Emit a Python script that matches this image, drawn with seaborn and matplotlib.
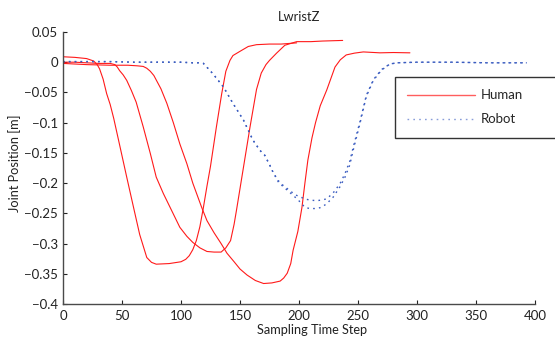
import matplotlib
matplotlib.use("Agg")
import matplotlib.pyplot as plt
import seaborn as sns
import pandas as pd
from matplotlib.lines import Line2D

# Three human demonstrations of the left wrist Z trajectory
human1_t = [0, 10, 20, 26, 29, 31, 34, 37, 40, 43, 48, 54, 60, 65, 71, 75, 79, 90, 100,
            104, 107, 110, 113, 116, 119, 122, 125, 130, 134.5, 138, 141.5, 144, 150,
            157, 164, 175, 185, 198]
human1_z = [0.009, 0.008, 0.006, 0.002, -0.004, -0.011, -0.028, -0.052, -0.070, -0.093,
            -0.137, -0.190, -0.242, -0.285, -0.323, -0.331, -0.334, -0.333, -0.330,
            -0.326, -0.320, -0.310, -0.295, -0.272, -0.240, -0.205, -0.172, -0.107,
            -0.052, -0.015, 0.003, 0.011, 0.018, 0.026, 0.029, 0.030, 0.030, 0.032]

human2_t = [0, 10, 20, 30, 40, 44, 46, 48, 51, 54, 58, 62, 68, 74, 79, 85, 92, 99, 105,
            110, 116, 122, 128, 134, 138, 142, 145, 147, 153, 158.5, 164, 168, 172,
            175, 181, 188, 198, 210, 220, 237]
human2_z = [0.000, 0.000, -0.001, -0.002, -0.002, -0.004, -0.008, -0.014, -0.021, -0.030,
            -0.047, -0.066, -0.107, -0.151, -0.190, -0.217, -0.245, -0.273, -0.288,
            -0.298, -0.307, -0.313, -0.314, -0.314, -0.307, -0.295, -0.268, -0.245,
            -0.173, -0.107, -0.045, -0.018, -0.004, 0.003, 0.015, 0.028, 0.034, 0.034,
            0.035, 0.036]

human3_t = [0, 10, 20, 40, 55, 63, 68, 71, 74, 77, 80, 83, 88, 93.5, 99, 105, 110, 117.5,
            122, 128, 134, 139, 145, 150, 156, 163, 170, 177, 184, 187, 190, 193, 195,
            199, 202.5, 205, 207.5, 211, 214, 218, 223.5, 230.5, 235, 240, 247, 254.5,
            268.6, 280, 294]
human3_z = [-0.002, -0.003, -0.004, -0.005, -0.005, -0.006, -0.007, -0.010, -0.015,
            -0.022, -0.033, -0.044, -0.068, -0.100, -0.135, -0.168, -0.200, -0.240,
            -0.262, -0.282, -0.300, -0.316, -0.330, -0.342, -0.352, -0.361, -0.366,
            -0.365, -0.362, -0.357, -0.349, -0.333, -0.311, -0.280, -0.240, -0.200,
            -0.162, -0.125, -0.100, -0.072, -0.046, -0.008, 0.004, 0.012, 0.015, 0.017,
            0.0155, 0.016, 0.0155]

# Two robot executions
robot1_t = [0, 20, 40, 60, 80, 100, 110, 115, 119, 127, 136, 144, 153, 161, 167, 171,
            175.4, 178, 182.5, 186.7, 192, 196.6, 199.4, 205, 209, 215, 219, 223.5, 229,
            234.7, 239, 243, 246, 251.7, 257, 263, 270, 277, 283, 300, 330, 360, 393]
robot1_z = [0.001, 0.001, 0.001, 0.000, 0.000, 0.000, -0.001, -0.001, -0.002, -0.019,
            -0.041, -0.068, -0.096, -0.129, -0.146, -0.154, -0.171, -0.182, -0.198,
            -0.206, -0.215, -0.223, -0.228, -0.240, -0.242, -0.242, -0.240, -0.234,
            -0.223, -0.206, -0.190, -0.170, -0.145, -0.101, -0.057, -0.030, -0.013,
            -0.003, -0.001, 0.000, 0.000, -0.001, -0.001]

robot2_t = [0, 20, 40, 60, 80, 100, 110, 115, 119, 127, 136, 144, 153, 161, 167, 171,
            175.4, 178, 182.5, 186.7, 192, 196.6, 200, 205, 209, 215, 219, 223.5, 229,
            234.7, 239, 243, 246, 251.7, 257, 263, 270, 277, 283, 300, 330, 360, 393]
robot2_z = [0.001, 0.001, 0.001, 0.000, 0.000, 0.000, -0.001, -0.001, -0.002, -0.019,
            -0.041, -0.068, -0.096, -0.129, -0.146, -0.154, -0.171, -0.182, -0.196,
            -0.204, -0.212, -0.219, -0.222, -0.226, -0.228, -0.229, -0.228, -0.226,
            -0.216, -0.201, -0.184, -0.164, -0.140, -0.098, -0.055, -0.029, -0.012,
            -0.003, -0.001, 0.000, 0.000, -0.001, -0.001]

x_ticks = [0, 50, 100, 150, 200, 250, 300, 350, 400]
y_ticks = [0.05, 0, -0.05, -0.1, -0.15, -0.2, -0.25, -0.3, -0.35, -0.4]

sns.set_style("ticks", {"xtick.direction": "in", "ytick.direction": "in",
                        "axes.edgecolor": "#4a4a4a"})
plt.rcParams["font.family"] = ["Lato", "DejaVu Sans"]

fig = plt.figure(figsize=(5.55, 3.39), dpi=100)
ax = fig.add_axes([0.1135, 0.103, 0.8505, 0.8027])

human_color = "#ff1a1a"
robot_color = "#3a5cc0"
robot_dash = (0, (1.2, 3.0))

for t, z in [(human1_t, human1_z), (human2_t, human2_z), (human3_t, human3_z)]:
    df = pd.DataFrame({"t": t, "z": z})
    sns.lineplot(data=df, x="t", y="z", ax=ax, color=human_color, lw=0.8,
                 sort=False, estimator=None)

for t, z in [(robot1_t, robot1_z), (robot2_t, robot2_z)]:
    df = pd.DataFrame({"t": t, "z": z})
    sns.lineplot(data=df, x="t", y="z", ax=ax, color=robot_color, lw=1.0,
                 linestyle=robot_dash, sort=False, estimator=None)

ax.set_xlim(0, 400)
ax.set_ylim(-0.4, 0.05)
ax.set_xticks(x_ticks)
ax.set_yticks(y_ticks)
ax.set_yticklabels([("%g" % v).replace("-", "\u2212") for v in y_ticks])
ax.tick_params(labelsize=9.5, colors="#222222", length=3, width=0.8)
ax.tick_params(axis="x", pad=4)
for s in ("left", "bottom"):
    ax.spines[s].set_linewidth(1.0)
sns.despine(ax=ax)

ax.set_title("LwristZ", fontsize=9.3, color="#222222", pad=8)
ax.set_xlabel("Sampling Time Step", fontsize=9.2, color="#222222")
ax.set_ylabel("Joint Position [m]", fontsize=9.2, color="#222222")
ax.xaxis.set_label_coords(0.5275, -0.072)
ax.yaxis.set_label_coords(-0.089, 0.518)

handles = [Line2D([], [], color=human_color, lw=1.0, alpha=0.7),
           Line2D([], [], color=robot_color, lw=1.0, linestyle=robot_dash, alpha=0.6)]
leg = ax.legend(handles, ["Human", "Robot"], loc="upper left",
                bbox_to_anchor=(0.703, 0.614, 0.37, 0.221), mode="expand",
                frameon=True, fancybox=False, fontsize=9.5, handlelength=5.1,
                handletextpad=0.45, borderpad=0.95, labelspacing=0.9,
                borderaxespad=0)
leg.get_frame().set_edgecolor("black")
leg.get_frame().set_linewidth(1.0)
leg.set_clip_on(False)

fig.savefig("out.png", dpi=100)
